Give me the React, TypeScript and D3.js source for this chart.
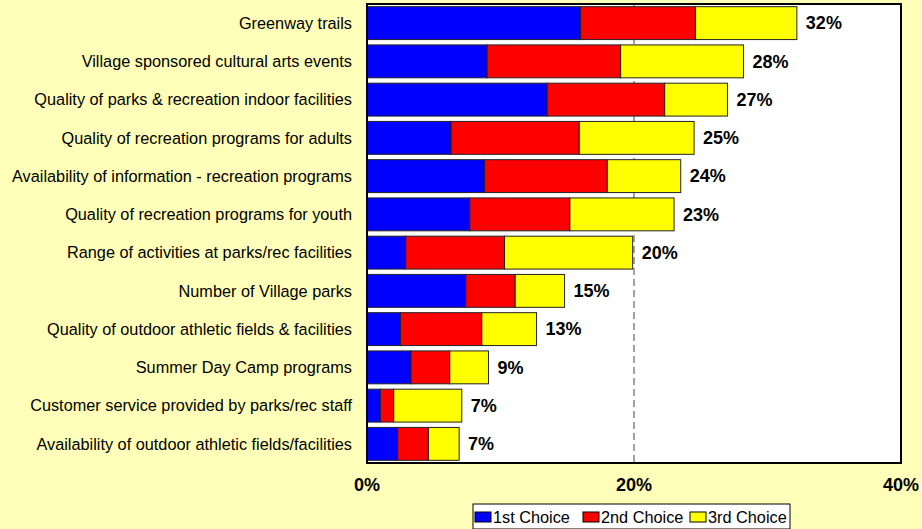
import React from "react";
import * as d3 from "d3";

const categories = [
  "Greenway trails",
  "Village sponsored cultural arts events",
  "Quality of parks & recreation indoor facilities",
  "Quality of recreation programs for adults",
  "Availability of information - recreation programs",
  "Quality of recreation programs for youth",
  "Range of activities at parks/rec facilities",
  "Number of Village parks",
  "Quality of outdoor athletic fields & facilities",
  "Summer Day Camp programs",
  "Customer service provided by parks/rec staff",
  "Availability of outdoor athletic fields/facilities",
];
const firstChoice = [16.0, 9.0, 13.5, 6.3, 8.8, 7.7, 2.9, 7.4, 2.5, 3.3, 1.0, 2.3];
const secondChoice = [8.6, 10.0, 8.8, 9.6, 9.2, 7.5, 7.4, 3.7, 6.1, 2.9, 1.0, 2.3];
const thirdChoice = [7.6, 9.2, 4.7, 8.6, 5.5, 7.8, 9.6, 3.7, 4.1, 2.9, 5.1, 2.3];
const totalLabels = ["32%", "28%", "27%", "25%", "24%", "23%", "20%", "15%", "13%", "9%", "7%", "7%"];
const seriesNames = ["1st Choice", "2nd Choice", "3rd Choice"];
const seriesColors = ["#0000FF", "#FF0000", "#FFFF00"];
const xTicks = [0, 20, 40];

const W = 922;
const H = 529;
const FONT = "Arial, 'Liberation Sans', sans-serif";

export default function App() {
  const left = 367, right = 901, top = 4, bottom = 463;
  const x = d3.scaleLinear().domain([0, 40]).range([left, right]);
  const y = d3.scaleBand<string>().domain(categories).range([top, bottom]).paddingInner(0.14).paddingOuter(0.07);
  const series = [firstChoice, secondChoice, thirdChoice];
  const rows = categories.map((c, i) => {
    const vals = series.map((s) => s[i]);
    const stack: { x0: number; x1: number; k: number }[] = [];
    let acc = 0;
    vals.forEach((v, k) => {
      stack.push({ x0: acc, x1: acc + v, k });
      acc += v;
    });
    return { c, stack, total: acc, label: totalLabels[i] };
  });

  const legendX = 473, legendY = 504, legendW = 317, legendH = 25;
  const legendItems = [475, 583, 690];

  return (
    <div style={{ position: "absolute", left: 0, top: 0 }}>
      <svg width={W} height={H} style={{ display: "block" }}>
        <rect x={0} y={0} width={W} height={H} fill="#FFFFB9" />
        <rect x={left} y={top} width={right - left} height={bottom - top} fill="#FFFFFF" />
        {xTicks.slice(1, -1).map((t) => (
          <line key={t} x1={x(t)} x2={x(t)} y1={top} y2={bottom} stroke="#666" strokeWidth={1.2} strokeDasharray="7,4" />
        ))}
        {rows.map((r) => (
          <g key={r.c}>
            {r.stack.map((s) => (
              <rect
                key={s.k}
                x={x(s.x0)}
                y={y(r.c)!}
                width={x(s.x1) - x(s.x0)}
                height={y.bandwidth()}
                fill={seriesColors[s.k]}
                stroke="#222"
                strokeWidth={1}
              />
            ))}
            <text
              x={x(r.total) + 9}
              y={y(r.c)! + y.bandwidth() / 2}
              dy="0.35em"
              fontFamily={FONT}
              fontWeight="bold"
              fontSize={18}
              fill="#000"
            >
              {r.label}
            </text>
            <text
              x={352}
              y={y(r.c)! + y.bandwidth() / 2}
              dy="0.35em"
              textAnchor="end"
              fontFamily={FONT}
              fontSize={16.3}
              fill="#000"
            >
              {r.c}
            </text>
          </g>
        ))}
        <rect x={left} y={top} width={right - left} height={bottom - top} fill="none" stroke="#000" strokeWidth={2} />
        {xTicks.map((t) => (
          <text key={t} x={x(t)} y={485} dy="0.35em" textAnchor="middle" fontFamily={FONT} fontWeight="bold" fontSize={18} fill="#000">
            {t}%
          </text>
        ))}
        <rect x={legendX} y={legendY} width={legendW} height={legendH} fill="#FFFFFF" stroke="#000" strokeWidth={1} />
        {seriesNames.map((n, k) => (
          <g key={n}>
            <rect x={legendItems[k]} y={legendY + 8} width={16} height={10} fill={seriesColors[k]} stroke="#000" strokeWidth={1} />
            <text x={legendItems[k] + 18} y={legendY + 13} dy="0.35em" fontFamily={FONT} fontSize={16.3} fill="#000">
              {n}
            </text>
          </g>
        ))}
      </svg>
    </div>
  );
}
